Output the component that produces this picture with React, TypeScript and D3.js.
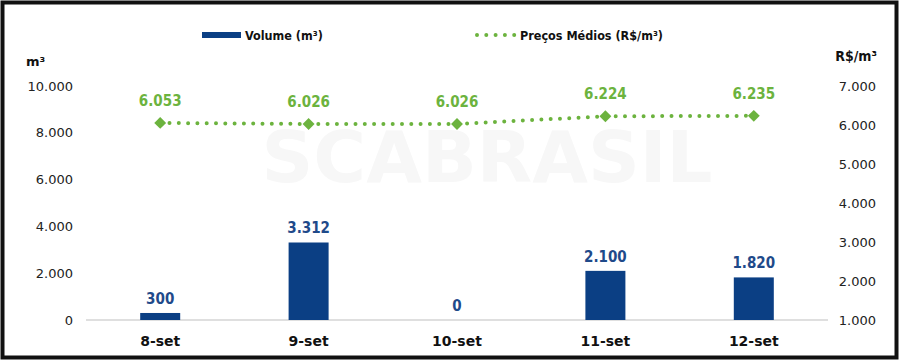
import * as d3 from "d3";
import { useEffect, useRef } from "react";

const categories = ["8-set", "9-set", "10-set", "11-set", "12-set"];
const volume = [300, 3312, 0, 2100, 1820];
const prices = [6053, 6026, 6026, 6224, 6235];
const leftTicks = [0, 2000, 4000, 6000, 8000, 10000];
const rightTicks = [1000, 2000, 3000, 4000, 5000, 6000, 7000];

const W = 900;
const H = 364;
const FONT = "'DejaVu Sans', Verdana, sans-serif";
const FONT_C = "'DejaVu Sans Condensed', 'DejaVu Sans', sans-serif";
const BLUE = "#0b3f84";
const GREEN = "#6cb33e";

const fmt = (v: number) => d3.format(",")(v).replace(/,/g, ".");

function App() {
  const svgRef = useRef<SVGSVGElement>(null);

  useEffect(() => {
    const svg = d3.select(svgRef.current);
    svg.selectAll("*").remove();

    const x = d3.scaleBand().domain(categories).range([86, 828]).paddingInner(0).paddingOuter(0);
    const yL = d3.scaleLinear().domain([0, 10000]).range([320, 86]);
    const yR = d3.scaleLinear().domain([1000, 7000]).range([320, 86]);
    const cx = (c: string) => (x(c) as number) + x.bandwidth() / 2;

    svg.append("rect").attr("width", W).attr("height", H).attr("fill", "#fff");

    // watermark
    svg
      .append("text")
      .attr("x", 487)
      .attr("y", 182)
      .attr("text-anchor", "middle")
      .attr("font-family", FONT)
      .attr("font-weight", "bold")
      .attr("font-size", 72)
      .attr("fill", "#f7f7f7")
      .text("SCABRASIL");

    // frame
    svg
      .append("rect")
      .attr("x", 2.5)
      .attr("y", 2.5)
      .attr("width", 894)
      .attr("height", 355)
      .attr("fill", "none")
      .attr("stroke", "#111")
      .attr("stroke-width", 4);

    // left axis
    svg
      .append("g")
      .selectAll("text")
      .data(leftTicks)
      .join("text")
      .attr("x", 73)
      .attr("y", (d) => yL(d))
      .attr("dy", "0.35em")
      .attr("text-anchor", "end")
      .attr("font-family", FONT)
      .attr("font-size", 13)
      .attr("fill", "#222")
      .text((d) => fmt(d));
    svg
      .append("text")
      .attr("x", 26)
      .attr("y", 66)
      .attr("font-family", FONT)
      .attr("font-weight", "bold")
      .attr("font-size", 13)
      .attr("fill", "#111")
      .text("m³");

    // right axis
    svg
      .append("g")
      .selectAll("text")
      .data(rightTicks)
      .join("text")
      .attr("x", 876)
      .attr("y", (d) => yR(d))
      .attr("dy", "0.35em")
      .attr("text-anchor", "end")
      .attr("font-family", FONT)
      .attr("font-size", 13)
      .attr("fill", "#222")
      .text((d) => fmt(d));
    svg
      .append("text")
      .attr("x", 877)
      .attr("y", 61)
      .attr("text-anchor", "end")
      .attr("font-family", FONT_C)
      .attr("font-weight", "bold")
      .attr("font-size", 14)
      .attr("fill", "#111")
      .text("R$/m³");

    // baseline
    svg
      .append("line")
      .attr("x1", 86)
      .attr("x2", 828)
      .attr("y1", yL(0))
      .attr("y2", yL(0))
      .attr("stroke", "#d4d4d4")
      .attr("stroke-width", 1.5);

    // bars
    const bw = 40;
    svg
      .selectAll(".bar")
      .data(volume)
      .join("rect")
      .attr("class", "bar")
      .attr("x", (d, i) => cx(categories[i]) - bw / 2)
      .attr("y", (d) => yL(d))
      .attr("width", bw)
      .attr("height", (d) => yL(0) - yL(d))
      .attr("fill", BLUE);

    svg
      .selectAll(".vlabel")
      .data(volume)
      .join("text")
      .attr("class", "vlabel")
      .attr("x", (d, i) => cx(categories[i]))
      .attr("y", (d) => yL(d) - 9)
      .attr("text-anchor", "middle")
      .attr("font-family", FONT_C)
      .attr("font-weight", "bold")
      .attr("font-size", 15)
      .attr("fill", "#1f4a8a")
      .text((d) => fmt(d));

    // category labels
    svg
      .selectAll(".cat")
      .data(categories)
      .join("text")
      .attr("class", "cat")
      .attr("x", (d) => cx(d))
      .attr("y", 346)
      .attr("text-anchor", "middle")
      .attr("font-family", FONT)
      .attr("font-weight", "bold")
      .attr("font-size", 14)
      .attr("fill", "#111")
      .text((d) => d);

    // price line
    const priceLine = d3
      .line<number>()
      .x((d, i) => cx(categories[i]))
      .y((d) => yR(d));
    svg
      .append("path")
      .datum(prices)
      .attr("d", priceLine)
      .attr("fill", "none")
      .attr("stroke", GREEN)
      .attr("stroke-width", 4)
      .attr("stroke-linecap", "round")
      .attr("stroke-dasharray", "0 9.3");

    const diamond = d3.symbol().type(d3.symbolDiamond2).size(90);
    svg
      .selectAll(".pt")
      .data(prices)
      .join("path")
      .attr("class", "pt")
      .attr("transform", (d, i) => `translate(${cx(categories[i])},${yR(d)})`)
      .attr("d", diamond)
      .attr("fill", GREEN);

    svg
      .selectAll(".plabel")
      .data(prices)
      .join("text")
      .attr("class", "plabel")
      .attr("x", (d, i) => cx(categories[i]))
      .attr("y", (d) => yR(d) - 17)
      .attr("text-anchor", "middle")
      .attr("font-family", FONT_C)
      .attr("font-weight", "bold")
      .attr("font-size", 15)
      .attr("fill", GREEN)
      .text((d) => fmt(d));

    // legend
    const lg = svg.append("g");
    lg.append("rect").attr("x", 202).attr("y", 32).attr("width", 39).attr("height", 6).attr("fill", BLUE);
    lg.append("text")
      .attr("x", 245)
      .attr("y", 40)
      .attr("font-family", FONT_C)
      .attr("font-weight", "bold")
      .attr("font-size", 12.5)
      .attr("fill", "#111")
      .text("Volume (m³)");
    lg.append("line")
      .attr("x1", 477)
      .attr("x2", 516)
      .attr("y1", 35)
      .attr("y2", 35)
      .attr("stroke", GREEN)
      .attr("stroke-width", 4)
      .attr("stroke-linecap", "round")
      .attr("stroke-dasharray", "0 9.3");
    lg.append("text")
      .attr("x", 520)
      .attr("y", 40)
      .attr("font-family", FONT_C)
      .attr("font-weight", "bold")
      .attr("font-size", 12.5)
      .attr("fill", "#111")
      .text("Preços Médios (R$/m³)");
  }, []);

  return (
    <svg
      ref={svgRef}
      width={W}
      height={H}
      style={{ position: "absolute", left: 0, top: 0 }}
    />
  );
}

export default App;
